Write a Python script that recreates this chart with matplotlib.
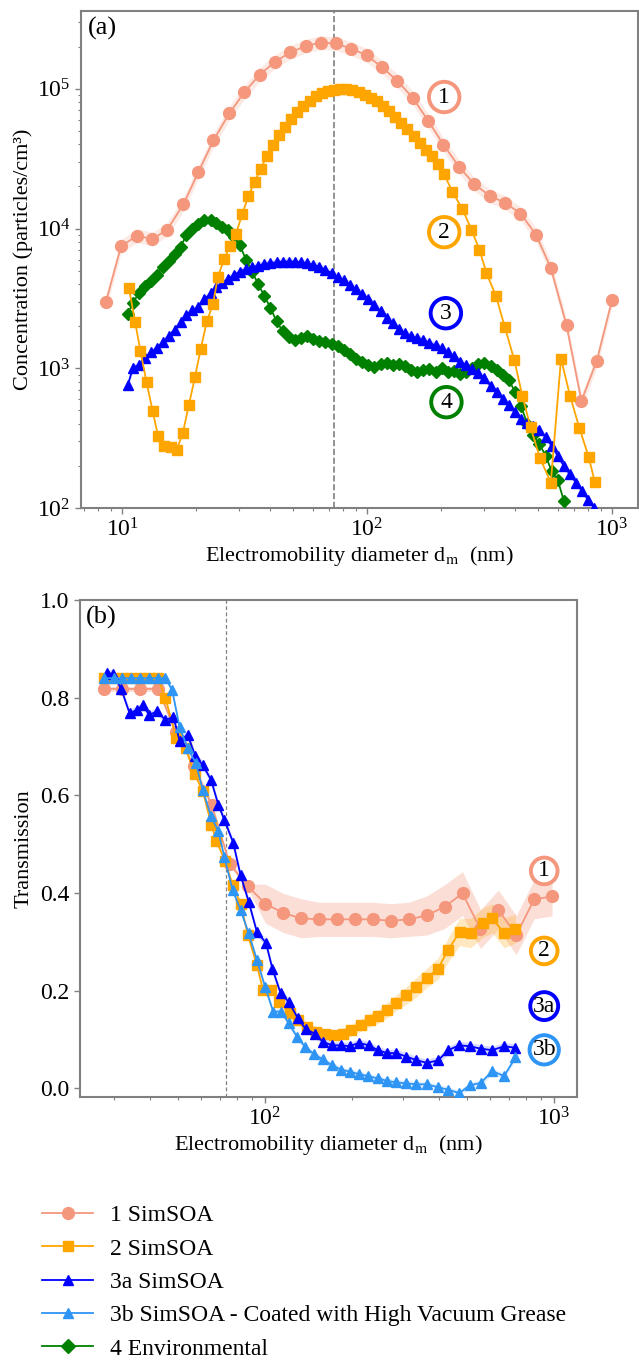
import numpy as np
import matplotlib as mpl
mpl.use('Agg')
import matplotlib.pyplot as plt

plt.rcParams['font.family'] = ['Liberation Serif', 'DejaVu Serif']
plt.rcParams['mathtext.fontset'] = 'stix'

# ---------------- (a) size distributions ----------------
d1 = [8.6, 9.9, 11.5, 13.3, 15.3, 17.8, 20.5, 23.6, 27.4, 31.6, 36.4, 42.1, 48.5, 56.1,
      64.6, 74.5, 86.0, 99.5, 115, 133, 154, 178, 205, 238, 274, 317, 366, 423, 489,
      563, 652, 750, 867, 1000]
c1 = [3000, 7450, 8900, 8400, 9840, 14900, 25400, 42700, 66700, 94600, 126000, 156000,
      182000, 202000, 214000, 211000, 194000, 174000, 143000, 114000, 85700, 58800,
      39900, 27500, 20800, 17100, 15300, 12800, 9060, 5200, 2030, 583, 1135, 3080]

d2 = [10.67, 11.30, 11.88, 12.59, 13.33, 14.01, 14.89, 15.84, 16.71, 17.70, 18.75, 19.86,
      20.95, 22.19, 23.50, 24.6, 26.1, 27.6, 29.2, 31.0, 32.8, 34.8, 36.8, 39.0, 41.3,
      43.8, 46.3, 49.1, 51.9, 55.0, 58.3, 61.7, 65.3, 69.2, 73.3, 77.6, 82.2, 87.1, 92.3,
      97.7, 103.5, 109.6, 116.1, 123.0, 130.3, 138.0, 146.2, 154.8, 164.0, 173.8, 184.0,
      195.0, 206.1, 222.7, 245.0, 266.6, 287.7, 307.3, 335.9, 365.1, 398.9, 430.5, 464.8,
      508.0, 562.6, 619.1, 674.0, 736.5, 804.0, 851.0]
c2 = [3740, 2150, 1335, 792, 494, 330, 279, 272, 261, 343, 549, 871, 1380, 2170, 2870,
      4480, 6070, 7500, 9210, 12800, 17100, 21700, 26700, 33000, 39600, 46500, 53400,
      60700, 67800, 75000, 82400, 88500, 93500, 96800, 98300, 98900, 98900, 97300, 94600,
      91000, 86500, 81500, 75400, 69300, 63100, 57100, 51400, 46000, 41200, 36600, 33000,
      29200, 24700, 18400, 13800, 9840, 7050, 4790, 3300, 1970, 1150, 634, 379, 228, 152,
      1170, 634, 372, 230, 153]

d34 = [10.55, 11.09, 11.75, 12.44, 13.08, 13.85, 14.67, 15.48, 16.39, 17.36, 18.25, 19.33,
       20.47, 21.68, 22.97, 24.14, 25.57, 27.08, 28.57, 30.26, 32.05, 33.95, 35.95, 38.08,
       40.34, 42.72, 45.25, 47.92, 50.76, 53.76, 56.94, 60.31, 63.88, 67.66, 71.66, 75.90,
       80.39, 85.15, 90.18, 95.50, 101.2, 107.2, 113.5, 120.2, 127.3, 134.9, 142.8, 151.3,
       160.2, 169.7, 179.7, 190.3, 201.6, 213.5, 226.1, 239.5, 253.7, 268.7, 284.6, 301.4,
       319.3, 338.2, 358.2, 379.3, 401.8, 425.6, 450.7, 477.4, 505.6, 535.5, 567.2, 600.8,
       636.3, 674.0, 713.8, 756.0, 800.8, 848.1]
c3 = [759, 1012, 1058, 1194, 1298, 1395, 1542, 1695, 1893, 2138, 2402, 2596, 2745, 3120,
      3430, 3788, 4070, 4350, 4650, 4917, 5140, 5285, 5434, 5587, 5650, 5740, 5805, 5805,
      5805, 5740, 5650, 5496, 5345, 5083, 4785, 4520, 4277, 3960, 3682, 3389, 3119, 2839,
      2570, 2298, 2115, 1924, 1791, 1695, 1648, 1603, 1517, 1460, 1396, 1306, 1215, 1117,
      1057, 989, 920, 847, 750, 678, 607, 543, 486, 435, 405, 389, 362, 321, 279, 236, 200,
      174, 152, 132, 114, 100]
c4 = [2455, 2951, 3484, 3892, 4236, 4677, 5285, 5904, 6597, 7366, 8950, 10000, 10750,
      11490, 11490, 10990, 10280, 9727, 8710, 7580, 6000, 4900, 4000, 3300, 2700, 2173,
      1841, 1666, 1603, 1648, 1695, 1631, 1560, 1542, 1491, 1450, 1357, 1263, 1168, 1105,
      1057, 1028, 1069, 1087, 1057, 1080, 1045, 972, 946, 968, 989, 946, 1000, 936, 962,
      906, 946, 1000, 1069, 1099, 1040, 972, 896, 824, 678, 537, 400, 333, 287, 236, 184,
      158, 112, 74]
d4 = d34[:len(c4)]

# ---------------- (b) transmission ----------------
t1_d = [27.8, 32.0, 36.9, 42.6, 49.2, 56.7, 65.4, 75.4, 87.0, 100.3, 115.7, 133.5, 153.9,
        177.6, 204.8, 236.2, 272.4, 314.2, 362.5, 418.0, 482.1, 556.1, 641.2, 739.6, 853.0,
        983.9]
t1 = [0.818, 0.818, 0.818, 0.818, 0.73, 0.66, 0.58, 0.46, 0.414, 0.378, 0.359, 0.348,
      0.346, 0.346, 0.346, 0.346, 0.343, 0.346, 0.354, 0.372, 0.399, 0.326, 0.366, 0.3135,
      0.387, 0.393]
t1_err = [0.005, 0.005, 0.005, 0.005, 0.005, 0.005, 0.005, 0.005, 0.005, 0.04, 0.04, 0.04,
          0.035, 0.035, 0.035, 0.035, 0.035, 0.035, 0.04, 0.045, 0.045, 0.04, 0.04, 0.04,
          0.04, 0.04]

t2_d = [27.8, 29.8, 32.0, 34.4, 36.9, 39.7, 42.6, 45.2, 49.3, 53.1, 57.1, 60.9, 65.2, 67.8,
        72.8, 77.2, 82.3, 87.3, 93.7, 98.4, 105.0, 112.0, 121.5, 129.7, 139.2, 150.1, 161.1,
        173.5, 186.4, 198.9, 214.3, 230.1, 246.4, 264.6, 284.1, 308.1, 334.1, 362.5, 396.8,
        430.3, 471.2, 514.3, 567.1, 610.9, 671.0, 734.9]
t2 = [0.84, 0.84, 0.84, 0.84, 0.84, 0.84, 0.84, 0.80, 0.717, 0.697, 0.643, 0.609, 0.54,
      0.507, 0.465, 0.416, 0.378, 0.313, 0.252, 0.201, 0.201, 0.176, 0.155, 0.14, 0.126,
      0.116, 0.111, 0.109, 0.112, 0.119, 0.129, 0.14, 0.147, 0.16, 0.175, 0.19, 0.207,
      0.226, 0.245, 0.284, 0.32, 0.318, 0.339, 0.348, 0.318, 0.327]
t2_err = [0.005] * 20 + [0.008, 0.008, 0.01, 0.01, 0.01, 0.01, 0.01, 0.01, 0.012, 0.012,
                         0.012, 0.014, 0.014, 0.016, 0.016, 0.018, 0.02, 0.02, 0.022, 0.025,
                         0.028, 0.03, 0.03, 0.03, 0.03, 0.03]

t3a_d = [28.4, 29.8, 31.8, 34.0, 36.0, 37.8, 39.7, 42.4, 45.2, 48.2, 50.6, 54.0, 57.3, 60.9,
         65.0, 68.9, 72.3, 77.6, 82.3, 87.8, 93.7, 100.7, 106.0, 113.1, 120.7, 129.7, 138.3,
         148.5, 158.5, 170.8, 183.4, 196.3, 210.9, 228.7, 245.5, 264.6, 284.1, 308.1, 331.9,
         362.5, 396.8, 430.3, 469.7, 511.0, 557.8, 610.9, 671.0, 734.9]
t3a = [0.85, 0.849, 0.818, 0.768, 0.775, 0.785, 0.765, 0.772, 0.754, 0.761, 0.712, 0.724,
       0.681, 0.662, 0.632, 0.581, 0.55, 0.503, 0.436, 0.382, 0.32, 0.298, 0.245, 0.195,
       0.177, 0.144, 0.121, 0.112, 0.095, 0.088, 0.088, 0.086, 0.093, 0.088, 0.078, 0.072,
       0.072, 0.065, 0.058, 0.052, 0.057, 0.078, 0.088, 0.086, 0.081, 0.078, 0.086, 0.083]

t3b_d = [27.8, 30.1, 32.1, 34.3, 36.8, 39.7, 42.6, 45.2, 47.7, 50.6, 54.0, 57.6, 60.9, 65.0,
         68.9, 72.3, 77.2, 82.3, 87.8, 93.7, 100.0, 106.7, 113.9, 120.7, 128.8, 137.4, 147.6,
         158.5, 170.8, 183.4, 196.3, 210.9, 227.2, 245.5, 264.6, 284.1, 308.1, 334.1, 362.5,
         396.8, 430.3, 469.7, 511.0, 557.8, 610.9, 671.0, 734.9]
t3b = [0.84, 0.84, 0.84, 0.84, 0.84, 0.84, 0.84, 0.84, 0.816, 0.74, 0.697, 0.666, 0.611,
       0.557, 0.527, 0.474, 0.406, 0.365, 0.317, 0.263, 0.208, 0.157, 0.157, 0.133, 0.106,
       0.085, 0.07, 0.059, 0.047, 0.038, 0.034, 0.029, 0.025, 0.02, 0.015, 0.012, 0.01,
       0.008, 0.008, 0.002, -0.003, -0.01, 0.006, 0.011, 0.035, 0.025, 0.063]

labels = ['1 SimSOA', '2 SimSOA', '3a SimSOA',
          '3b SimSOA - Coated with High Vacuum Grease', '4 Environmental']
colors = ['#F4977D', '#FFA500', '#0000FF', '#2E95F5', '#008000']
d_cut = 73  # dashed reference line (nm)

FS = 16      # axis labels
TFS = 17     # tick labels
GRAY = '#808080'

fig = plt.figure(figsize=(6.39, 13.66), dpi=100)
ax1 = fig.add_axes([0.1268, 0.6281, 0.8717, 0.3638])
ax2 = fig.add_axes([0.1252, 0.1969, 0.7778, 0.3638])


def style_axes(ax):
    for sp in ax.spines.values():
        sp.set_color(GRAY)
        sp.set_linewidth(1.5)
    ax.tick_params(which='both', colors=GRAY, labelcolor='black', labelsize=TFS)
    ax.tick_params(which='major', length=4, width=1)
    ax.tick_params(which='minor', length=2.5, width=0.8)


#######################################
# (a)
#######################################
band = 1.12
ax1.fill_between(d1, np.array(c1) / band, np.array(c1) * band, color=colors[0],
                 alpha=0.2, lw=0)
ax1.fill_between(d34, np.array(c3) / 1.06, np.array(c3) * 1.06, color=colors[2],
                 alpha=0.15, lw=0)
ax1.plot(d1, c1, '-o', color=colors[0], ms=8.5, lw=1.3, zorder=3)
ax1.plot(d4, c4, '-D', color=colors[4], ms=6, lw=1.3, zorder=4)
ax1.plot(d34, c3, '-^', color=colors[2], ms=7.5, lw=1.3, zorder=4)
ax1.plot(d2, c2, '-s', color=colors[1], ms=7, lw=1.3, zorder=5)
ax1.axvline(d_cut, color=GRAY, ls='--', lw=1.2, zorder=1)

ax1.set_xscale('log')
ax1.set_yscale('log')
ax1.set_xlim(6.8, 1277)
ax1.set_ylim(100, 3.6e5)
ax1.set_xlabel(r'Electromobility diameter d$_{\mathrm{m}}$  (nm)', fontsize=FS, labelpad=2)
ax1.set_ylabel('Concentration (particles/cm³)', fontsize=FS, labelpad=3)
style_axes(ax1)
ax1.text(0.012, 0.988, '(a)', transform=ax1.transAxes, ha='left', va='top', fontsize=19)

tags_a = [('1', 0.652, 0.827, colors[0]), ('2', 0.652, 0.555, colors[1]),
          ('3', 0.655, 0.392, colors[2]), ('4', 0.656, 0.213, colors[4])]
for txt, xx, yy, col in tags_a:
    ax1.text(xx, yy, txt, transform=ax1.transAxes, ha='center', va='center', fontsize=17,
             zorder=6, bbox=dict(boxstyle='circle,pad=0.2', fc='white', ec=col, lw=2.8))

#######################################
# (b)
#######################################
t1a = np.array(t1)
e1 = np.array(t1_err)
ax2.fill_between(t1_d, t1a - e1, t1a + e1, color=colors[0], alpha=0.3, lw=0)
t2a = np.array(t2)
e2 = np.array(t2_err)
ax2.fill_between(t2_d, t2a - e2, t2a + e2, color=colors[1], alpha=0.25, lw=0)
ax2.fill_between(t3a_d, np.array(t3a) - 0.008, np.array(t3a) + 0.008, color=colors[2],
                 alpha=0.15, lw=0)
ax2.fill_between(t3b_d, np.array(t3b) - 0.006, np.array(t3b) + 0.006, color=colors[3],
                 alpha=0.15, lw=0)

h1, = ax2.plot(t1_d, t1, '-o', color=colors[0], ms=8.5, lw=1.3, zorder=3)
h2, = ax2.plot(t2_d, t2, '-s', color=colors[1], ms=7.5, lw=1.3, zorder=4)
h3, = ax2.plot(t3a_d, t3a, '-^', color=colors[2], ms=7.5, lw=1.3, zorder=5)
h4, = ax2.plot(t3b_d, t3b, '-^', color=colors[3], ms=7.5, lw=1.3, zorder=6)
h5, = ax2.plot([], [], '-D', color=colors[4], ms=7.5, lw=1.3)
ax2.axvline(d_cut, color=GRAY, ls=(0, (3, 2)), lw=0.9, zorder=1)

ax2.set_xscale('log')
ax2.set_xlim(22.9, 1200)
ax2.set_ylim(-0.018, 1.0)
ax2.set_yticks([0.0, 0.2, 0.4, 0.6, 0.8, 1.0])
ax2.set_xlabel(r'Electromobility diameter d$_{\mathrm{m}}$  (nm)', fontsize=FS, labelpad=2)
ax2.set_ylabel('Transmission', fontsize=FS, labelpad=5)
style_axes(ax2)
ax2.text(0.012, 0.988, '(b)', transform=ax2.transAxes, ha='left', va='top', fontsize=19)

tags_b = [('1', 0.934, 0.455, colors[0]), ('2', 0.934, 0.294, colors[1]),
          ('3a', 0.934, 0.183, colors[2]), ('3b', 0.934, 0.095, colors[3])]
for txt, xx, yy, col in tags_b:
    ax2.text(xx, yy, txt, transform=ax2.transAxes, ha='center', va='center', fontsize=17,
             zorder=7, bbox=dict(boxstyle='circle,pad=0.12', fc='white', ec=col, lw=2.8))

fig.legend([h1, h2, h3, h4, h5], labels, loc='upper left', bbox_to_anchor=(0.065, 0.118),
           frameon=False, fontsize=17, handlelength=2.2, handletextpad=0.7,
           labelspacing=0.5, borderpad=0, borderaxespad=0)

fig.savefig('out.png', dpi=100, facecolor='white')
